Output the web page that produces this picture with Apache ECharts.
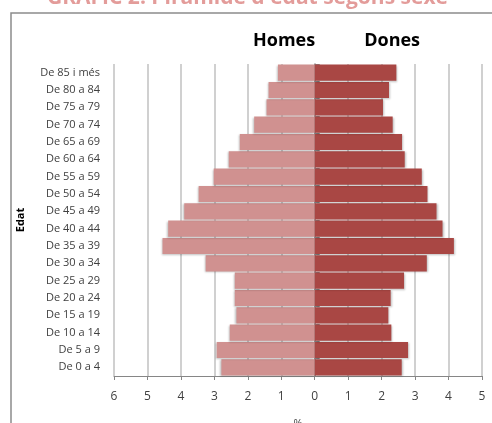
<!DOCTYPE html>
<html>
<head>
<meta charset="utf-8">
<script src="https://cdn.jsdelivr.net/npm/echarts@6/dist/echarts.min.js"></script>
<style>
  html, body { margin: 0; padding: 0; background: #fff; }
  #chart { width: 492px; height: 423px; }
</style>
</head>
<body>
<div id="chart"></div>
<script>
// edat (de baix a dalt)
var edats = ["De 0 a 4", "De 5 a 9", "De 10 a 14", "De 15 a 19", "De 20 a 24",
  "De 25 a 29", "De 30 a 34", "De 35 a 39", "De 40 a 44", "De 45 a 49",
  "De 50 a 54", "De 55 a 59", "De 60 a 64", "De 65 a 69", "De 70 a 74",
  "De 75 a 79", "De 80 a 84", "De 85 i més"];
var homes = [2.79, 2.93, 2.54, 2.34, 2.39, 2.39, 3.26, 4.55, 4.38, 3.90,
  3.47, 3.02, 2.57, 2.24, 1.81, 1.44, 1.38, 1.10];
var dones = [2.60, 2.79, 2.29, 2.20, 2.27, 2.67, 3.35, 4.16, 3.82, 3.64,
  3.37, 3.20, 2.69, 2.61, 2.33, 2.04, 2.22, 2.44];

var font = "Open Sans";
var myChart = echarts.init(document.getElementById("chart"));

myChart.setOption({
  animation: false,
  textStyle: { fontFamily: font },
  title: {
    text: "GRÀFIC 2. Piràmide d'edat segons sexe",
    left: 42,
    top: -17,
    textStyle: { color: "#E39C9A", fontSize: 21, fontWeight: "bold", fontFamily: font }
  },
  graphic: [
    {
      type: "rect",
      shape: { x: 11, y: 13, width: 500, height: 430 },
      style: { fill: "none", stroke: "#8c8c8c", lineWidth: 1.5 },
      silent: true
    }
  ],
  legend: {
    data: ["Homes", "Dones"],
    left: 243,
    top: 27,
    itemWidth: 0,
    itemHeight: 0,
    itemGap: 44,
    textStyle: { fontSize: 18, fontWeight: "bold", color: "#000", fontFamily: font }
  },
  grid: { left: 114, right: 10, top: 64, bottom: 47, outerBoundsMode: "none" },
  xAxis: {
    type: "value",
    min: -6,
    max: 5,
    interval: 1,
    name: "%",
    nameLocation: "middle",
    nameGap: 42,
    nameTextStyle: { color: "#404040", fontSize: 11 },
    axisLine: { show: true, lineStyle: { color: "#868686" } },
    axisTick: { show: true, length: 4, lineStyle: { color: "#868686" } },
    axisLabel: {
      color: "#404040",
      fontSize: 12,
      margin: 15,
      formatter: function (v) { return Math.abs(v); }
    },
    splitLine: { show: true, lineStyle: { color: "#c0c0c0", width: 1.5 } }
  },
  yAxis: [
    {
      type: "category",
      data: edats,
      name: "Edat",
      nameLocation: "middle",
      nameGap: 88,
      nameTextStyle: { color: "#000", fontWeight: "bold", fontSize: 11 },
      axisLine: { show: false, onZero: false },
      axisTick: { show: false },
      axisLabel: { color: "#404040", fontSize: 11, margin: 14 }
    },
    {
      type: "category",
      data: edats,
      position: "left",
      axisLine: { show: true, onZero: true, lineStyle: { color: "#868686", width: 1.5 } },
      axisTick: { show: true, inside: true, length: 5, lineStyle: { color: "#868686" } },
      axisLabel: { show: false }
    }
  ],
  series: [
    {
      name: "Homes",
      type: "bar",
      yAxisIndex: 0,
      data: homes.map(function (v) { return -v; }),
      barCategoryGap: "7%",
      barGap: "-100%",
      itemStyle: {
        color: "#D09190",
        shadowColor: "rgba(0,0,0,0.25)",
        shadowBlur: 2,
        shadowOffsetX: -1,
        shadowOffsetY: 1
      }
    },
    {
      name: "Dones",
      type: "bar",
      yAxisIndex: 0,
      data: dones,
      barCategoryGap: "7%",
      barGap: "-100%",
      itemStyle: {
        color: "#A94744",
        shadowColor: "rgba(0,0,0,0.25)",
        shadowBlur: 2,
        shadowOffsetX: 1,
        shadowOffsetY: 1
      }
    }
  ]
});
</script>
</body>
</html>
